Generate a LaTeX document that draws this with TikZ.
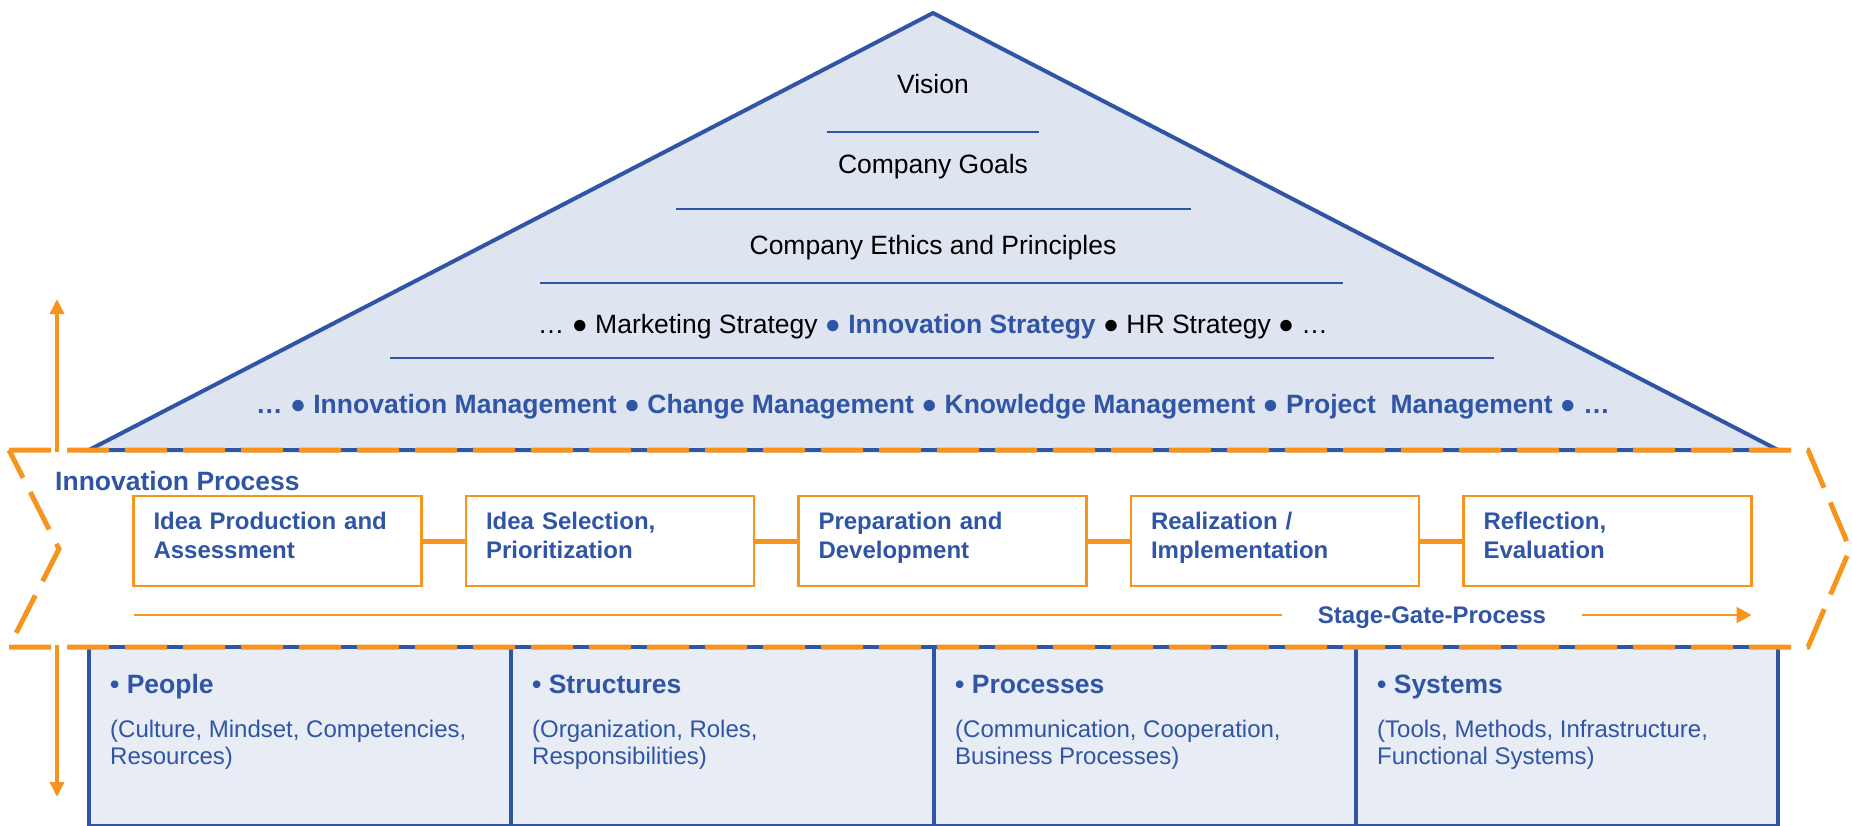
\documentclass[tikz,border=0pt]{standalone}
\usepackage{fontspec}
\setmainfont{Liberation Sans}
\usetikzlibrary{arrows.meta,positioning}

\definecolor{housblue}{HTML}{2F55A4}
\definecolor{roofbg}{HTML}{DEE4F0}
\definecolor{basebg}{HTML}{E8ECF4}
\definecolor{procorange}{HTML}{F7941E}

\tikzset{
  rooftext/.style={inner sep=0pt, anchor=base, font=\fontsize{26.5}{30}\selectfont},
  layerline/.style={housblue, line width=2pt},
  procbox/.style={draw=procorange, line width=2.5pt, fill=white, text=housblue,
    text width=248pt, inner xsep=20pt, minimum height=90pt, align=left,
    text depth=41pt, font=\fontsize{24}{29.5}\selectfont\bfseries},
  basebox/.style={draw=housblue, line width=4pt, fill=basebg, inner sep=0pt,
    outer sep=0pt, minimum width=422.25pt, minimum height=179pt},
  basehead/.style={inner sep=0pt, anchor=base west, text=housblue,
    font=\fontsize{26.5}{30}\selectfont\bfseries},
  basetext/.style={inner sep=0pt, anchor=west, text=housblue, align=left,
    font=\fontsize{24}{27}\selectfont},
}

\begin{document}
\begin{tikzpicture}[x=1pt, y=-1pt, >={Triangle[length=15pt,width=14pt]}]
  \useasboundingbox (0,0) rectangle (1852,826);

  % Roof
  \draw[housblue, line width=4pt, line join=miter, fill=roofbg]
    (89,450) -- (933,13) -- (1778,450) -- cycle;
  \node[rooftext] (vision) at (933,93.5) {Vision};
  \draw[layerline] (827,132) -- (1039,132);
  \node[rooftext] (goals) at (933,173.5) {Company Goals};
  \draw[layerline] (676,209) -- (1191,209);
  \node[rooftext] (ethics) at (933,254.5) {Company Ethics and Principles};
  \draw[layerline] (540,283) -- (1343,283);
  \node[rooftext] (strategy) at (933,333.5)
    {… ● Marketing Strategy {\color{housblue}● \textbf{Innovation Strategy}} ● HR Strategy ● …};
  \draw[layerline] (390,358) -- (1494,358);
  \node[rooftext, text=housblue, font=\fontsize{26.5}{30}\selectfont\bfseries] (mgmt) at (933,413.5)
    {… ● Innovation Management ● Change Management ● Knowledge Management ● Project\ \ Management ● …};

  % Foundation
  \node[basebox, anchor=north west] (f1) at (89,647) {};
  \node[basebox, right=0pt of f1] (f2) {};
  \node[basebox, right=0pt of f2] (f3) {};
  \node[basebox, right=0pt of f3] (f4) {};
  \node[basehead] (people) at (110,693.5) {• People};
  \node[basetext] (peopletxt) at (110,744.5) {(Culture, Mindset, Competencies,\\Resources)};
  \node[basehead] (structures) at (532,693.5) {• Structures};
  \node[basetext] (structurestxt) at (532,744.5) {(Organization, Roles,\\Responsibilities)};
  \node[basehead] (processes) at (955,693.5) {• Processes};
  \node[basetext] (processestxt) at (955,744.5) {(Communication, Cooperation,\\Business Processes)};
  \node[basehead] (systems) at (1377,693.5) {• Systems};
  \node[basetext] (systemstxt) at (1377,744.5) {(Tools, Methods, Infrastructure,\\Functional Systems)};

  % Innovation process band
  \draw[procorange, line width=5pt, dash pattern=on 42pt off 16pt, line join=miter]
    (9,450) -- (1808,450) -- (1850,549) -- (1808,647) -- (9,647) -- (59,549) -- cycle;
  \node[basehead] (innov) at (55,490.5) {Innovation Process};

  \node[procbox] (p1) at (277.5,541) {Idea Production and\\Assessment};
  \node[procbox, right=42pt of p1] (p2) {Idea Selection,\\Prioritization};
  \node[procbox, right=42pt of p2] (p3) {Preparation and\\Development};
  \node[procbox, right=42pt of p3] (p4) {Realization /\\Implementation};
  \node[procbox, right=42pt of p4] (p5) {Reflection,\\Evaluation};
  \draw[procorange, line width=5pt] (p1) -- (p2);
  \draw[procorange, line width=5pt] (p2) -- (p3);
  \draw[procorange, line width=5pt] (p3) -- (p4);
  \draw[procorange, line width=5pt] (p4) -- (p5);

  % Stage-gate arrow
  \coordinate (sgstart) at (133.5,615);
  \coordinate (sgend) at (1751.5,615);
  \draw[procorange, line width=2.2pt, -{Triangle[length=15pt,width=16pt]}] (sgstart) -- (sgend)
    node[pos=0.8025, fill=white, inner xsep=36pt, inner ysep=2pt, text depth=0pt, text=housblue,
      font=\fontsize{24}{28}\selectfont\bfseries] (sg) {Stage-Gate-Process};

  % Up and down arrows
  \coordinate (uptop) at (57,299);
  \coordinate (upbot) at (57,452);
  \coordinate (dntop) at (57,645);
  \coordinate (dnbot) at (57,797);
  \draw[procorange, line width=3.5pt, ->] (upbot) -- (uptop);
  \draw[procorange, line width=3.5pt, ->] (dntop) -- (dnbot);
\end{tikzpicture}
\end{document}
